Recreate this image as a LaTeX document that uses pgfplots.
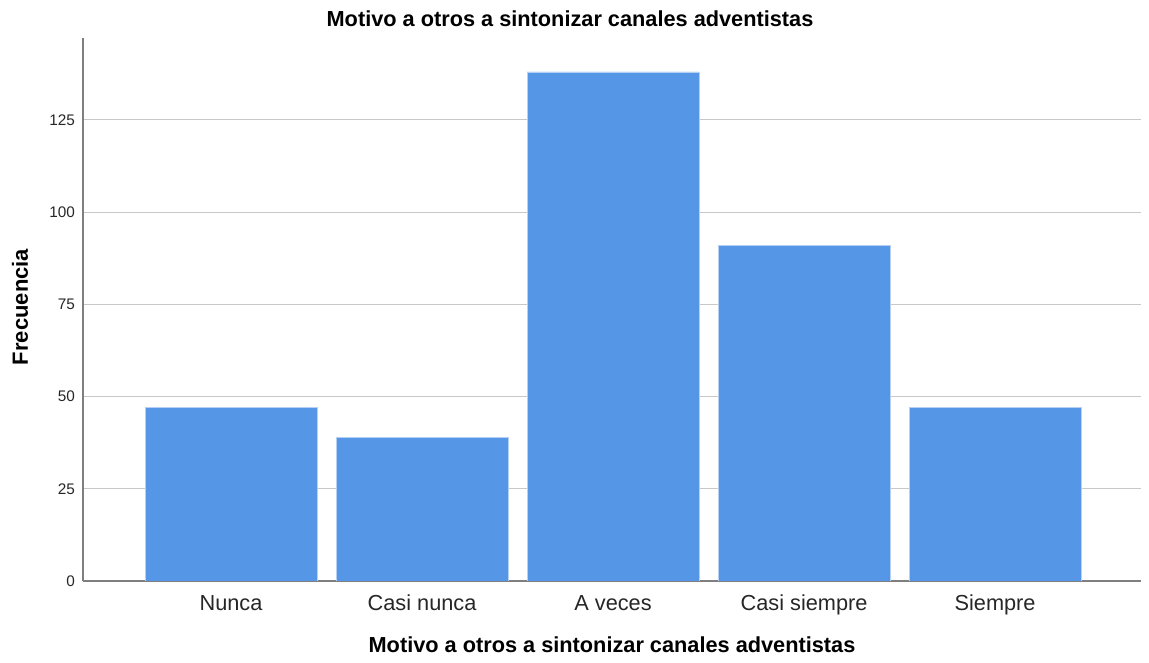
\documentclass[border=0pt]{standalone}
\usepackage{fontspec}
\setmainfont{Liberation Sans}
\usepackage{pgfplots}
\pgfplotsset{compat=1.18}

\definecolor{barblue}{HTML}{5596E6}
\definecolor{baredge}{HTML}{B5D0F2}
\definecolor{gridgray}{HTML}{C8C8C8}
\definecolor{axisgray}{HTML}{7F7F7F}
\definecolor{txt}{HTML}{262626}

\begin{document}
\begin{tikzpicture}
% 1 px of the reference = 0.75pt; axis box lower left at (0,0)
\useasboundingbox (-62.25pt,-61.5pt) rectangle (799.5pt,435.75pt);
\begin{axis}[
    at={(0pt,0pt)}, anchor=south west,
    scale only axis,
    width=793.5pt, height=407.25pt,
    xmin=-0.775, xmax=4.764,
    ymin=0, ymax=147.2,
    axis lines*=left,
    axis line style={axisgray, line width=1pt},
    ymajorgrids,
    grid style={gridgray, line width=0.9pt},
    major tick length=0pt,
    xtick={0,1,2,3,4},
    xticklabels={Nunca, Casi nunca, A veces, Casi siempre, Siempre},
    ytick={0,25,50,75,100,125},
    xticklabel style={font=\fontsize{16.3}{18}\selectfont\strut, text=txt, yshift=-6pt},
    yticklabel style={font=\fontsize{11.5}{13}\selectfont, text=txt, xshift=-2.5pt},
    /pgf/number format/assume math mode=true,
    ybar, bar width=0.9, bar shift=0pt,
]
\addplot[fill=barblue, draw=baredge, line width=0.6pt] coordinates {
    (0,47) (1,39) (2,138) (3,91) (4,47)
};
\end{axis}
\node[font=\bfseries\fontsize{16.3}{18}\selectfont] at (365.25pt,421.5pt) {Motivo a otros a sintonizar canales adventistas};
\node[font=\bfseries\fontsize{16.3}{18}\selectfont] at (396.75pt,-48pt) {Motivo a otros a sintonizar canales adventistas};
\node[font=\bfseries\fontsize{16.5}{18}\selectfont, rotate=90] at (-47.25pt,205.5pt) {Frecuencia};
\end{tikzpicture}
\end{document}
